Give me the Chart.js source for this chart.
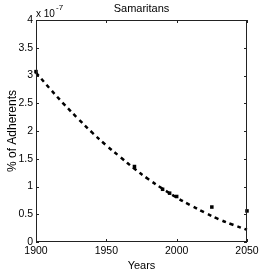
<!DOCTYPE html>
<html>
<head>
<meta charset="utf-8">
<script src="https://cdn.jsdelivr.net/npm/chart.js@4/dist/chart.umd.min.js"></script>
<style>
  html, body { margin: 0; padding: 0; background: #fff; }
  canvas { display: block; }
</style>
</head>
<body>
<canvas id="chart" width="273" height="273"></canvas>
<script>
// Data (values in units of 1e-7)
const obsYears = [1900, 1970, 1990, 1995, 2000, 2025, 2050];
const obsValues = [3.07, 1.36, 0.95, 0.88, 0.82, 0.63, 0.56];

// fitted curve, every 10 years
const fitYears = [1900, 1910, 1920, 1930, 1940, 1950, 1960, 1970, 1980, 1990, 2000, 2010, 2020, 2030, 2040, 2050];
const fitValues = [3.05, 2.76, 2.48, 2.22, 1.97, 1.74, 1.53, 1.32, 1.13, 0.96, 0.80, 0.66, 0.53, 0.41, 0.31, 0.22];

const xTicks = [1900, 1950, 2000, 2050];
const yTicks = [0, 0.5, 1, 1.5, 2, 2.5, 3, 3.5, 4];

const FONT = '"Liberation Sans Narrow", "Liberation Sans", Arial, sans-serif';

// box + inward ticks, title and exponent label
const matlabAxes = {
    id: 'matlabAxes',
    afterDraw(chart) {
        const { ctx, chartArea: a, scales } = chart;
        ctx.save();
        ctx.strokeStyle = '#222';
        ctx.lineWidth = 1;
        ctx.strokeRect(a.left + 0.5, a.top + 0.5, a.right - a.left - 1, a.bottom - a.top - 1);
        ctx.beginPath();
        xTicks.forEach(v => {
            const px = Math.round(scales.x.getPixelForValue(v)) + 0.5;
            ctx.moveTo(px, a.bottom); ctx.lineTo(px, a.bottom - 3);
            ctx.moveTo(px, a.top); ctx.lineTo(px, a.top + 3);
        });
        yTicks.forEach(v => {
            const py = Math.round(scales.y.getPixelForValue(v)) + 0.5;
            ctx.moveTo(a.left, py); ctx.lineTo(a.left + 3, py);
            ctx.moveTo(a.right, py); ctx.lineTo(a.right - 3, py);
        });
        ctx.stroke();

        ctx.fillStyle = '#000';
        ctx.font = '11px ' + FONT;
        ctx.textAlign = 'center';
        ctx.textBaseline = 'alphabetic';
        ctx.fillText('Samaritans', (a.left + a.right) / 2, 12);

        ctx.textAlign = 'left';
        ctx.font = '10px ' + FONT;
        ctx.fillText('x 10', a.left, 17);
        ctx.font = '8px ' + FONT;
        ctx.fillText('-7', a.left + 20, 10);
        ctx.restore();
    }
};

new Chart(document.getElementById('chart'), {
    type: 'scatter',
    data: {
        datasets: [
            {
                label: 'fit',
                data: fitYears.map((x, i) => ({ x, y: fitValues[i] })),
                showLine: true,
                borderColor: '#000',
                borderWidth: 2.5,
                borderDash: [4, 4],
                pointRadius: 0,
                tension: 0.4
            },
            {
                label: 'observed',
                data: obsYears.map((x, i) => ({ x, y: obsValues[i] })),
                pointStyle: 'rect',
                pointRadius: 2.5,
                backgroundColor: '#000',
                borderColor: '#000',
                borderWidth: 0
            }
        ]
    },
    options: {
        responsive: false,
        animation: false,
        clip: false,
        layout: { padding: { left: 0, top: 20, right: 26, bottom: 0 } },
        plugins: { legend: { display: false }, tooltip: { enabled: false } },
        scales: {
            x: {
                type: 'linear',
                min: 1900,
                max: 2050,
                afterBuildTicks: s => { s.ticks = xTicks.map(v => ({ value: v })); },
                afterFit: s => { s.height = 31; },
                grid: { display: false, drawTicks: false, tickLength: 0 },
                border: { display: false },
                ticks: { color: '#000', font: { family: FONT, size: 10.5 }, padding: 3, maxRotation: 0, callback: v => String(v) },
                title: { display: true, text: 'Years', color: '#000', font: { family: FONT, size: 11 }, padding: 0 }
            },
            y: {
                min: 0,
                max: 4,
                afterBuildTicks: s => { s.ticks = yTicks.map(v => ({ value: v })); },
                afterFit: s => { s.width = 36; },
                grid: { display: false, drawTicks: false, tickLength: 0 },
                border: { display: false },
                ticks: { color: '#000', font: { family: FONT, size: 10.5 }, padding: 3, callback: v => String(v) },
                title: { display: true, text: '% of Adherents', color: '#000', font: { family: FONT, size: 12 }, padding: { top: 5, bottom: 0 } }
            }
        }
    },
    plugins: [matlabAxes]
});
</script>
</body>
</html>
